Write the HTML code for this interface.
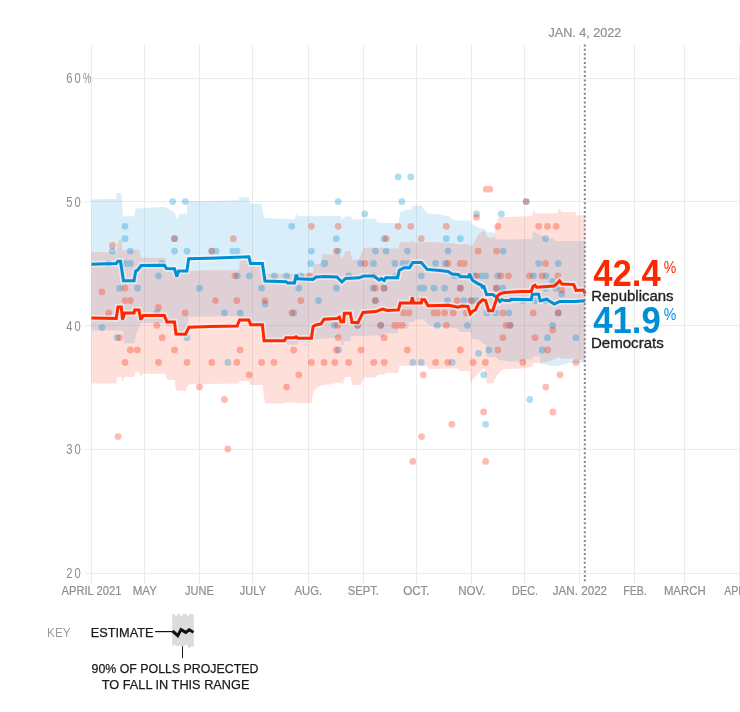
<!DOCTYPE html>
<html><head><meta charset="utf-8"><style>
html,body{margin:0;padding:0;background:#fff;}
body{width:740px;height:712px;overflow:hidden;}
svg{display:block;}
.g line{stroke:#ebebeb;stroke-width:1;shape-rendering:crispEdges;}
text{font-family:"Liberation Sans",Arial,sans-serif;}
.xl text{font-size:12px;fill:#8e8e8e;stroke:#8e8e8e;stroke-width:0.2px;}
.yl text{font-size:14px;fill:#8e8e8e;}
.b{fill:#008fd5;fill-opacity:0.31;}
.r{fill:#ff2700;fill-opacity:0.31;}
</style></head><body>
<svg width="740" height="712" viewBox="0 0 740 712">
<g class="g">
<line x1="91.5" y1="44.8" x2="91.5" y2="583.5"/>
<line x1="144.5" y1="44.8" x2="144.5" y2="583.5"/>
<line x1="199.5" y1="44.8" x2="199.5" y2="583.5"/>
<line x1="252.5" y1="44.8" x2="252.5" y2="583.5"/>
<line x1="308.5" y1="44.8" x2="308.5" y2="583.5"/>
<line x1="363.5" y1="44.8" x2="363.5" y2="583.5"/>
<line x1="416.5" y1="44.8" x2="416.5" y2="583.5"/>
<line x1="471.5" y1="44.8" x2="471.5" y2="583.5"/>
<line x1="524.5" y1="44.8" x2="524.5" y2="583.5"/>
<line x1="579.5" y1="44.8" x2="579.5" y2="583.5"/>
<line x1="634.5" y1="44.8" x2="634.5" y2="583.5"/>
<line x1="684.5" y1="44.8" x2="684.5" y2="583.5"/>
<line x1="739.5" y1="44.8" x2="739.5" y2="583.5"/>
<line x1="91" y1="78.5" x2="740" y2="78.5"/>
<line x1="85" y1="201.5" x2="740" y2="201.5"/>
<line x1="85" y1="325.5" x2="740" y2="325.5"/>
<line x1="85" y1="449" x2="740" y2="449"/>
<line x1="85" y1="573.3" x2="740" y2="573.3"/>
</g>
<polygon points="91.4,199.4 116.2,198.7 117.0,193.0 121.3,193.0 123.0,216.3 134.0,216.3 135.7,208.6 164.4,207.0 174.5,212.0 177.0,219.6 179.6,213.7 187.0,213.5 187.5,201.0 210.0,201.0 238.8,200.2 239.6,197.2 248.9,197.2 250.3,203.6 261.6,203.9 264.0,218.0 284.4,218.8 294.5,219.6 296.5,213.6 297.5,216.2 330.0,216.0 341.0,215.7 341.9,219.9 345.3,216.5 351.2,216.5 352.0,219.4 363.0,219.4 363.9,218.7 375.7,218.7 377.4,222.4 398.5,223.3 400.2,212.3 406.0,209.8 411.0,209.8 412.8,205.5 421.3,205.5 424.3,209.7 428.1,213.5 439.5,214.6 449.2,216.2 451.4,218.9 457.8,220.5 468.6,220.5 470.0,219.5 471.9,223.8 478.4,227.6 482.5,228.6 483.8,228.0 487.0,231.9 493.7,232.6 495.0,238.7 500.8,239.6 532.0,238.9 533.2,231.5 538.6,234.2 546.8,238.2 554.0,238.2 555.0,241.0 585.1,241.0 585.1,362.4 578.0,363.1 569.0,363.1 563.0,364.6 557.0,366.1 551.0,366.1 547.0,364.5 540.0,363.9 539.5,356.4 533.0,356.4 532.0,359.4 526.0,359.4 524.6,361.6 510.0,361.8 499.3,360.0 495.1,356.9 486.7,356.9 486.3,344.2 483.2,344.2 480.0,340.0 472.0,339.0 470.4,332.0 459.0,332.0 458.2,329.0 450.0,327.5 433.0,326.8 428.0,324.3 423.0,319.2 415.0,319.5 414.0,322.0 409.0,322.3 407.8,328.4 398.2,328.4 398.0,333.2 383.8,333.2 383.5,336.9 379.0,336.9 378.6,335.5 351.0,336.3 350.5,341.2 344.0,341.2 343.5,345.0 341.5,345.4 340.5,337.5 325.0,338.5 313.0,339.5 312.2,342.2 298.5,342.2 298.0,344.8 286.5,344.8 285.8,341.3 263.0,341.3 262.1,325.5 251.6,325.5 250.6,319.5 239.0,319.5 238.4,316.2 205.0,316.5 188.5,317.0 187.8,332.8 177.0,332.8 176.4,326.6 166.5,326.6 165.8,323.1 141.2,323.1 136.0,335.0 134.2,343.3 124.0,343.3 123.2,330.5 116.6,330.5 91.4,330.5" fill="#008fd5" fill-opacity="0.15"/>
<polygon points="91.4,252.2 116.6,252.2 117.5,245.0 119.0,238.9 121.9,239.5 122.5,250.8 137.7,249.5 139.0,250.0 141.2,257.8 165.8,257.8 166.5,271.0 188.0,271.0 205.0,270.3 239.2,270.3 239.6,260.2 249.8,260.2 250.6,265.0 262.4,265.0 264.0,273.7 312.8,273.7 313.5,264.0 321.5,264.0 322.5,254.3 340.2,254.5 341.9,259.6 345.3,251.1 350.3,251.1 352.0,259.6 358.8,259.6 363.9,247.8 382.0,247.8 382.4,246.0 383.0,248.6 398.5,248.6 400.2,242.3 411.0,242.3 412.3,238.5 413.0,242.7 426.0,242.0 450.0,243.0 458.0,244.3 469.7,244.3 471.0,246.0 472.5,245.4 478.4,234.6 482.7,231.4 484.9,231.0 487.0,236.8 491.4,237.8 493.2,237.7 498.0,218.0 500.8,217.3 532.0,216.0 533.9,209.2 535.5,213.2 557.0,213.2 559.6,208.5 561.6,211.9 575.0,211.9 576.5,215.3 585.1,215.3 585.1,360.9 575.0,358.6 561.0,358.6 558.8,356.4 556.0,358.5 548.5,361.6 539.5,363.1 533.5,363.1 532.0,366.8 524.6,368.3 510.0,369.1 502.0,369.5 497.0,375.5 493.0,383.2 486.7,383.5 484.5,368.8 483.2,368.8 472.0,380.0 471.5,382.8 470.5,382.8 469.8,370.9 459.3,370.9 458.2,368.5 450.0,368.6 428.6,369.2 426.8,365.7 399.6,365.7 397.9,373.1 385.6,373.1 384.7,374.8 377.6,374.8 375.9,377.5 363.6,377.5 361.0,385.0 352.2,385.0 350.5,377.1 345.2,377.1 342.6,384.6 341.0,383.2 337.0,382.7 330.0,384.5 323.2,384.9 316.0,387.7 313.1,392.0 311.4,403.0 298.5,403.0 297.9,402.4 286.0,402.4 284.4,403.4 265.0,403.4 262.4,384.9 250.6,384.9 248.9,381.0 239.6,381.0 238.8,383.5 210.0,383.9 188.4,384.4 185.5,391.0 176.2,390.6 174.5,380.0 167.8,380.0 164.4,373.7 142.4,373.7 140.7,376.4 139.0,372.0 135.7,372.0 134.0,377.0 124.2,377.0 122.5,382.7 121.3,377.0 117.0,377.0 116.2,383.5 91.4,383.5" fill="#ff2808" fill-opacity="0.15"/>
<g>
<g fill="#008fd5" opacity="0.31">
<circle cx="172.7" cy="201.6" r="3.4"/>
<circle cx="185.2" cy="201.6" r="3.4"/>
<circle cx="125.0" cy="226.3" r="3.4"/>
<circle cx="125.0" cy="238.7" r="3.4"/>
<circle cx="112.4" cy="251.1" r="3.4"/>
<circle cx="130.3" cy="251.1" r="3.4"/>
<circle cx="174.5" cy="238.7" r="3.4"/>
<circle cx="174.5" cy="251.1" r="3.4"/>
<circle cx="187.0" cy="251.1" r="3.4"/>
<circle cx="108.6" cy="263.5" r="3.4"/>
<circle cx="125.5" cy="263.5" r="3.4"/>
<circle cx="130.3" cy="263.5" r="3.4"/>
<circle cx="161.9" cy="263.5" r="3.4"/>
<circle cx="158.5" cy="275.8" r="3.4"/>
<circle cx="119.6" cy="288.2" r="3.4"/>
<circle cx="137.4" cy="288.2" r="3.4"/>
<circle cx="199.5" cy="288.2" r="3.4"/>
<circle cx="156.8" cy="312.9" r="3.4"/>
<circle cx="101.9" cy="327.6" r="3.4"/>
<circle cx="117.1" cy="337.7" r="3.4"/>
<circle cx="187.0" cy="337.7" r="3.4"/>
<circle cx="291.7" cy="226.3" r="3.4"/>
<circle cx="211.8" cy="251.1" r="3.4"/>
<circle cx="216.0" cy="251.1" r="3.4"/>
<circle cx="232.9" cy="251.1" r="3.4"/>
<circle cx="237.1" cy="251.1" r="3.4"/>
<circle cx="311.4" cy="251.1" r="3.4"/>
<circle cx="310.6" cy="263.5" r="3.4"/>
<circle cx="324.0" cy="263.5" r="3.4"/>
<circle cx="237.4" cy="275.8" r="3.4"/>
<circle cx="249.3" cy="275.8" r="3.4"/>
<circle cx="274.3" cy="275.8" r="3.4"/>
<circle cx="286.6" cy="275.8" r="3.4"/>
<circle cx="301.0" cy="275.8" r="3.4"/>
<circle cx="261.6" cy="288.2" r="3.4"/>
<circle cx="298.8" cy="288.2" r="3.4"/>
<circle cx="265.0" cy="304.0" r="3.4"/>
<circle cx="318.5" cy="300.6" r="3.4"/>
<circle cx="224.4" cy="312.9" r="3.4"/>
<circle cx="240.1" cy="312.9" r="3.4"/>
<circle cx="293.7" cy="312.9" r="3.4"/>
<circle cx="227.8" cy="362.4" r="3.4"/>
<circle cx="398.1" cy="176.9" r="3.4"/>
<circle cx="410.8" cy="176.9" r="3.4"/>
<circle cx="338.2" cy="201.6" r="3.4"/>
<circle cx="401.9" cy="201.6" r="3.4"/>
<circle cx="364.7" cy="214.0" r="3.4"/>
<circle cx="336.3" cy="238.7" r="3.4"/>
<circle cx="384.1" cy="238.7" r="3.4"/>
<circle cx="446.3" cy="238.7" r="3.4"/>
<circle cx="338.2" cy="251.1" r="3.4"/>
<circle cx="375.3" cy="251.1" r="3.4"/>
<circle cx="386.1" cy="251.1" r="3.4"/>
<circle cx="407.3" cy="251.1" r="3.4"/>
<circle cx="448.0" cy="251.1" r="3.4"/>
<circle cx="325.0" cy="263.5" r="3.4"/>
<circle cx="360.5" cy="263.5" r="3.4"/>
<circle cx="373.6" cy="263.5" r="3.4"/>
<circle cx="394.8" cy="263.5" r="3.4"/>
<circle cx="403.2" cy="263.5" r="3.4"/>
<circle cx="408.3" cy="263.5" r="3.4"/>
<circle cx="435.6" cy="263.5" r="3.4"/>
<circle cx="445.4" cy="263.5" r="3.4"/>
<circle cx="348.6" cy="275.8" r="3.4"/>
<circle cx="396.0" cy="275.8" r="3.4"/>
<circle cx="421.3" cy="275.8" r="3.4"/>
<circle cx="336.3" cy="288.2" r="3.4"/>
<circle cx="373.1" cy="288.2" r="3.4"/>
<circle cx="384.1" cy="288.2" r="3.4"/>
<circle cx="420.4" cy="288.2" r="3.4"/>
<circle cx="423.8" cy="288.2" r="3.4"/>
<circle cx="434.0" cy="288.2" r="3.4"/>
<circle cx="444.6" cy="288.2" r="3.4"/>
<circle cx="375.3" cy="300.6" r="3.4"/>
<circle cx="447.5" cy="300.6" r="3.4"/>
<circle cx="334.3" cy="325.3" r="3.4"/>
<circle cx="357.6" cy="325.3" r="3.4"/>
<circle cx="380.7" cy="325.3" r="3.4"/>
<circle cx="437.3" cy="325.3" r="3.4"/>
<circle cx="338.5" cy="350.0" r="3.4"/>
<circle cx="412.8" cy="362.4" r="3.4"/>
<circle cx="421.2" cy="362.4" r="3.4"/>
<circle cx="526.2" cy="201.6" r="3.4"/>
<circle cx="476.5" cy="214.0" r="3.4"/>
<circle cx="501.4" cy="214.0" r="3.4"/>
<circle cx="460.3" cy="238.7" r="3.4"/>
<circle cx="545.6" cy="238.7" r="3.4"/>
<circle cx="503.2" cy="251.1" r="3.4"/>
<circle cx="538.7" cy="263.5" r="3.4"/>
<circle cx="558.2" cy="263.5" r="3.4"/>
<circle cx="454.2" cy="275.8" r="3.4"/>
<circle cx="459.3" cy="275.8" r="3.4"/>
<circle cx="474.3" cy="275.8" r="3.4"/>
<circle cx="481.6" cy="275.8" r="3.4"/>
<circle cx="485.6" cy="275.8" r="3.4"/>
<circle cx="497.8" cy="275.8" r="3.4"/>
<circle cx="533.4" cy="275.8" r="3.4"/>
<circle cx="546.0" cy="275.8" r="3.4"/>
<circle cx="552.7" cy="281.4" r="3.4"/>
<circle cx="460.3" cy="288.2" r="3.4"/>
<circle cx="496.4" cy="288.2" r="3.4"/>
<circle cx="502.8" cy="288.2" r="3.4"/>
<circle cx="545.7" cy="288.2" r="3.4"/>
<circle cx="555.8" cy="288.2" r="3.4"/>
<circle cx="561.7" cy="294.0" r="3.4"/>
<circle cx="464.0" cy="300.6" r="3.4"/>
<circle cx="471.4" cy="300.6" r="3.4"/>
<circle cx="476.5" cy="300.6" r="3.4"/>
<circle cx="523.1" cy="300.6" r="3.4"/>
<circle cx="535.3" cy="300.6" r="3.4"/>
<circle cx="545.4" cy="300.6" r="3.4"/>
<circle cx="487.0" cy="312.9" r="3.4"/>
<circle cx="495.7" cy="312.9" r="3.4"/>
<circle cx="508.9" cy="312.9" r="3.4"/>
<circle cx="558.2" cy="312.9" r="3.4"/>
<circle cx="467.4" cy="325.3" r="3.4"/>
<circle cx="510.0" cy="325.3" r="3.4"/>
<circle cx="552.7" cy="325.3" r="3.4"/>
<circle cx="547.5" cy="337.7" r="3.4"/>
<circle cx="575.9" cy="337.7" r="3.4"/>
<circle cx="488.8" cy="350.0" r="3.4"/>
<circle cx="542.2" cy="350.0" r="3.4"/>
<circle cx="478.6" cy="353.3" r="3.4"/>
<circle cx="452.2" cy="362.4" r="3.4"/>
<circle cx="483.7" cy="374.8" r="3.4"/>
<circle cx="529.8" cy="399.5" r="3.4"/>
<circle cx="485.6" cy="424.3" r="3.4"/>
</g>
<g fill="#ff2700" opacity="0.31">
<circle cx="112.4" cy="245.5" r="3.4"/>
<circle cx="174.5" cy="238.7" r="3.4"/>
<circle cx="101.9" cy="291.8" r="3.4"/>
<circle cx="125.0" cy="288.2" r="3.4"/>
<circle cx="125.0" cy="300.6" r="3.4"/>
<circle cx="130.3" cy="300.6" r="3.4"/>
<circle cx="108.6" cy="312.9" r="3.4"/>
<circle cx="158.5" cy="307.5" r="3.4"/>
<circle cx="185.2" cy="312.9" r="3.4"/>
<circle cx="156.8" cy="325.3" r="3.4"/>
<circle cx="119.6" cy="337.7" r="3.4"/>
<circle cx="162.2" cy="337.7" r="3.4"/>
<circle cx="130.3" cy="350.0" r="3.4"/>
<circle cx="137.4" cy="350.0" r="3.4"/>
<circle cx="174.5" cy="350.0" r="3.4"/>
<circle cx="125.0" cy="362.4" r="3.4"/>
<circle cx="158.5" cy="362.4" r="3.4"/>
<circle cx="187.0" cy="362.4" r="3.4"/>
<circle cx="199.5" cy="387.1" r="3.4"/>
<circle cx="118.0" cy="436.6" r="3.4"/>
<circle cx="311.4" cy="226.3" r="3.4"/>
<circle cx="233.4" cy="238.7" r="3.4"/>
<circle cx="211.8" cy="251.1" r="3.4"/>
<circle cx="235.0" cy="275.8" r="3.4"/>
<circle cx="309.7" cy="275.8" r="3.4"/>
<circle cx="215.5" cy="300.6" r="3.4"/>
<circle cx="236.8" cy="300.6" r="3.4"/>
<circle cx="265.0" cy="300.6" r="3.4"/>
<circle cx="300.8" cy="300.6" r="3.4"/>
<circle cx="292.0" cy="312.9" r="3.4"/>
<circle cx="240.1" cy="350.0" r="3.4"/>
<circle cx="293.7" cy="350.0" r="3.4"/>
<circle cx="211.8" cy="362.4" r="3.4"/>
<circle cx="236.8" cy="362.4" r="3.4"/>
<circle cx="261.6" cy="362.4" r="3.4"/>
<circle cx="273.9" cy="362.4" r="3.4"/>
<circle cx="311.4" cy="362.4" r="3.4"/>
<circle cx="324.1" cy="362.4" r="3.4"/>
<circle cx="249.3" cy="374.8" r="3.4"/>
<circle cx="298.8" cy="374.8" r="3.4"/>
<circle cx="286.6" cy="387.1" r="3.4"/>
<circle cx="224.4" cy="399.5" r="3.4"/>
<circle cx="227.8" cy="449.0" r="3.4"/>
<circle cx="338.2" cy="226.3" r="3.4"/>
<circle cx="398.1" cy="226.3" r="3.4"/>
<circle cx="410.8" cy="226.3" r="3.4"/>
<circle cx="446.3" cy="226.3" r="3.4"/>
<circle cx="386.1" cy="238.7" r="3.4"/>
<circle cx="421.3" cy="238.7" r="3.4"/>
<circle cx="336.3" cy="251.1" r="3.4"/>
<circle cx="365.0" cy="263.5" r="3.4"/>
<circle cx="448.0" cy="263.5" r="3.4"/>
<circle cx="373.6" cy="275.8" r="3.4"/>
<circle cx="375.3" cy="288.2" r="3.4"/>
<circle cx="384.1" cy="288.2" r="3.4"/>
<circle cx="375.3" cy="300.6" r="3.4"/>
<circle cx="420.4" cy="300.6" r="3.4"/>
<circle cx="403.5" cy="312.9" r="3.4"/>
<circle cx="409.0" cy="312.9" r="3.4"/>
<circle cx="434.0" cy="312.9" r="3.4"/>
<circle cx="437.3" cy="312.9" r="3.4"/>
<circle cx="444.6" cy="312.9" r="3.4"/>
<circle cx="337.7" cy="325.3" r="3.4"/>
<circle cx="357.6" cy="325.3" r="3.4"/>
<circle cx="380.7" cy="325.3" r="3.4"/>
<circle cx="394.8" cy="325.3" r="3.4"/>
<circle cx="397.6" cy="325.3" r="3.4"/>
<circle cx="402.2" cy="325.3" r="3.4"/>
<circle cx="446.3" cy="325.3" r="3.4"/>
<circle cx="338.2" cy="337.7" r="3.4"/>
<circle cx="384.1" cy="337.7" r="3.4"/>
<circle cx="336.3" cy="350.0" r="3.4"/>
<circle cx="361.0" cy="350.0" r="3.4"/>
<circle cx="407.3" cy="350.0" r="3.4"/>
<circle cx="334.7" cy="362.4" r="3.4"/>
<circle cx="348.7" cy="362.4" r="3.4"/>
<circle cx="373.8" cy="362.4" r="3.4"/>
<circle cx="384.3" cy="362.4" r="3.4"/>
<circle cx="435.6" cy="362.4" r="3.4"/>
<circle cx="423.3" cy="374.8" r="3.4"/>
<circle cx="421.6" cy="436.6" r="3.4"/>
<circle cx="412.8" cy="461.4" r="3.4"/>
<circle cx="486.3" cy="189.2" r="3.4"/>
<circle cx="489.7" cy="189.2" r="3.4"/>
<circle cx="526.2" cy="201.6" r="3.4"/>
<circle cx="476.5" cy="217.3" r="3.4"/>
<circle cx="497.8" cy="226.3" r="3.4"/>
<circle cx="538.7" cy="226.3" r="3.4"/>
<circle cx="547.4" cy="226.3" r="3.4"/>
<circle cx="556.2" cy="226.3" r="3.4"/>
<circle cx="478.1" cy="251.1" r="3.4"/>
<circle cx="496.4" cy="251.1" r="3.4"/>
<circle cx="460.3" cy="263.5" r="3.4"/>
<circle cx="464.3" cy="263.5" r="3.4"/>
<circle cx="545.6" cy="263.5" r="3.4"/>
<circle cx="476.4" cy="275.8" r="3.4"/>
<circle cx="500.8" cy="275.8" r="3.4"/>
<circle cx="508.5" cy="275.8" r="3.4"/>
<circle cx="529.4" cy="275.8" r="3.4"/>
<circle cx="542.0" cy="275.8" r="3.4"/>
<circle cx="558.0" cy="275.8" r="3.4"/>
<circle cx="460.3" cy="288.2" r="3.4"/>
<circle cx="496.4" cy="288.2" r="3.4"/>
<circle cx="561.7" cy="290.0" r="3.4"/>
<circle cx="457.2" cy="300.6" r="3.4"/>
<circle cx="471.4" cy="300.6" r="3.4"/>
<circle cx="453.2" cy="312.9" r="3.4"/>
<circle cx="466.4" cy="312.9" r="3.4"/>
<circle cx="502.8" cy="312.9" r="3.4"/>
<circle cx="533.2" cy="312.9" r="3.4"/>
<circle cx="558.2" cy="312.9" r="3.4"/>
<circle cx="506.0" cy="325.3" r="3.4"/>
<circle cx="510.0" cy="325.3" r="3.4"/>
<circle cx="552.7" cy="330.0" r="3.4"/>
<circle cx="502.9" cy="337.7" r="3.4"/>
<circle cx="535.0" cy="337.7" r="3.4"/>
<circle cx="460.3" cy="350.0" r="3.4"/>
<circle cx="497.8" cy="350.0" r="3.4"/>
<circle cx="547.6" cy="350.0" r="3.4"/>
<circle cx="447.7" cy="362.4" r="3.4"/>
<circle cx="473.0" cy="362.4" r="3.4"/>
<circle cx="485.4" cy="362.4" r="3.4"/>
<circle cx="522.8" cy="362.4" r="3.4"/>
<circle cx="575.9" cy="362.4" r="3.4"/>
<circle cx="560.0" cy="374.8" r="3.4"/>
<circle cx="545.8" cy="387.1" r="3.4"/>
<circle cx="483.6" cy="411.9" r="3.4"/>
<circle cx="552.9" cy="411.9" r="3.4"/>
<circle cx="451.8" cy="424.3" r="3.4"/>
<circle cx="485.6" cy="461.4" r="3.4"/>
</g>
</g>
<polyline points="91.4,264.3 116.2,263.5 118.0,261.2 120.5,261.2 123.5,280.7 134.0,280.7 135.7,271.0 137.7,270.0 141.2,265.5 164.4,265.2 166.5,268.5 174.5,268.8 176.8,276.5 178.6,271.0 186.9,271.0 188.7,258.8 210.0,258.2 248.9,256.8 250.6,263.5 262.4,263.5 265.0,281.0 286.0,281.7 287.8,283.0 294.5,283.0 296.2,274.5 297.9,278.7 313.0,279.5 316.0,277.0 325.0,276.5 336.8,277.0 341.9,282.0 345.3,278.6 358.8,277.8 363.9,276.1 374.0,276.1 379.0,280.0 381.5,278.6 384.1,280.5 385.8,277.8 397.6,277.8 399.3,270.2 404.4,267.7 409.5,267.7 412.8,262.6 421.3,262.6 427.2,269.4 440.0,270.5 448.1,271.5 452.0,274.0 458.2,274.5 460.3,276.5 468.4,277.0 469.6,273.8 472.4,280.3 477.5,283.4 481.6,285.4 482.6,288.4 483.6,285.4 486.6,294.5 492.7,294.5 495.7,296.6 499.8,301.6 501.8,299.6 504.9,300.6 510.0,300.6 511.0,299.2 531.2,299.7 532.4,294.3 538.6,294.3 540.3,300.8 546.8,299.2 548.9,300.8 554.3,304.0 559.7,301.4 575.0,301.4 585.1,300.8" fill="none" stroke="#fff" stroke-opacity="0.45" stroke-width="6.5" stroke-linejoin="miter" stroke-miterlimit="2.5"/>
<polyline points="91.4,318.0 116.2,318.5 118.0,307.0 121.3,307.0 122.5,319.6 124.7,312.9 134.0,312.9 134.8,310.0 139.0,310.0 140.7,319.6 143.3,315.4 164.4,315.4 167.0,322.0 174.5,322.0 176.0,334.0 185.5,334.2 189.0,327.2 210.0,326.4 237.1,326.0 239.6,320.0 248.9,320.0 250.6,324.8 262.4,324.8 264.1,340.8 284.4,340.8 286.0,337.8 294.0,337.8 296.0,336.8 297.9,338.3 311.4,338.3 313.1,326.5 316.0,325.0 321.0,324.0 324.0,319.2 336.8,318.5 339.4,317.2 341.0,321.7 343.6,321.7 344.4,313.3 350.3,313.3 352.0,322.6 358.0,322.6 363.0,312.4 375.7,311.6 382.4,309.0 387.5,310.4 398.5,309.9 400.2,303.1 411.1,303.1 412.3,297.2 413.5,303.1 421.3,303.1 422.0,299.8 424.7,299.8 428.0,305.7 448.0,305.2 450.0,305.5 458.0,307.3 462.0,306.0 468.0,306.5 470.4,313.8 472.4,311.5 475.5,309.7 478.5,303.7 482.6,299.6 485.6,300.6 488.7,310.7 492.7,310.7 495.7,301.6 497.8,295.5 500.8,293.5 504.9,292.5 521.0,291.6 531.2,291.5 533.0,286.2 535.0,285.2 536.5,287.3 554.0,286.0 556.0,284.5 559.6,280.8 562.0,284.1 573.8,284.6 576.0,290.5 583.5,290.0 585.1,293.5" fill="none" stroke="#fff" stroke-opacity="0.45" stroke-width="6.5" stroke-linejoin="miter" stroke-miterlimit="2.5"/>
<polyline points="91.4,264.3 116.2,263.5 118.0,261.2 120.5,261.2 123.5,280.7 134.0,280.7 135.7,271.0 137.7,270.0 141.2,265.5 164.4,265.2 166.5,268.5 174.5,268.8 176.8,276.5 178.6,271.0 186.9,271.0 188.7,258.8 210.0,258.2 248.9,256.8 250.6,263.5 262.4,263.5 265.0,281.0 286.0,281.7 287.8,283.0 294.5,283.0 296.2,274.5 297.9,278.7 313.0,279.5 316.0,277.0 325.0,276.5 336.8,277.0 341.9,282.0 345.3,278.6 358.8,277.8 363.9,276.1 374.0,276.1 379.0,280.0 381.5,278.6 384.1,280.5 385.8,277.8 397.6,277.8 399.3,270.2 404.4,267.7 409.5,267.7 412.8,262.6 421.3,262.6 427.2,269.4 440.0,270.5 448.1,271.5 452.0,274.0 458.2,274.5 460.3,276.5 468.4,277.0 469.6,273.8 472.4,280.3 477.5,283.4 481.6,285.4 482.6,288.4 483.6,285.4 486.6,294.5 492.7,294.5 495.7,296.6 499.8,301.6 501.8,299.6 504.9,300.6 510.0,300.6 511.0,299.2 531.2,299.7 532.4,294.3 538.6,294.3 540.3,300.8 546.8,299.2 548.9,300.8 554.3,304.0 559.7,301.4 575.0,301.4 585.1,300.8" fill="none" stroke="#008fd5" stroke-width="3" stroke-linejoin="miter" stroke-miterlimit="2.5"/>
<polyline points="91.4,318.0 116.2,318.5 118.0,307.0 121.3,307.0 122.5,319.6 124.7,312.9 134.0,312.9 134.8,310.0 139.0,310.0 140.7,319.6 143.3,315.4 164.4,315.4 167.0,322.0 174.5,322.0 176.0,334.0 185.5,334.2 189.0,327.2 210.0,326.4 237.1,326.0 239.6,320.0 248.9,320.0 250.6,324.8 262.4,324.8 264.1,340.8 284.4,340.8 286.0,337.8 294.0,337.8 296.0,336.8 297.9,338.3 311.4,338.3 313.1,326.5 316.0,325.0 321.0,324.0 324.0,319.2 336.8,318.5 339.4,317.2 341.0,321.7 343.6,321.7 344.4,313.3 350.3,313.3 352.0,322.6 358.0,322.6 363.0,312.4 375.7,311.6 382.4,309.0 387.5,310.4 398.5,309.9 400.2,303.1 411.1,303.1 412.3,297.2 413.5,303.1 421.3,303.1 422.0,299.8 424.7,299.8 428.0,305.7 448.0,305.2 450.0,305.5 458.0,307.3 462.0,306.0 468.0,306.5 470.4,313.8 472.4,311.5 475.5,309.7 478.5,303.7 482.6,299.6 485.6,300.6 488.7,310.7 492.7,310.7 495.7,301.6 497.8,295.5 500.8,293.5 504.9,292.5 521.0,291.6 531.2,291.5 533.0,286.2 535.0,285.2 536.5,287.3 554.0,286.0 556.0,284.5 559.6,280.8 562.0,284.1 573.8,284.6 576.0,290.5 583.5,290.0 585.1,293.5" fill="none" stroke="#ff2700" stroke-width="3" stroke-linejoin="miter" stroke-miterlimit="2.5"/>
<line x1="584.8" y1="44.4" x2="584.8" y2="581.4" stroke="#858585" stroke-width="2" stroke-dasharray="2,2.385"/>
<text x="548.4" y="36.6" font-size="13.6" fill="#8e8e8e" stroke="#8e8e8e" stroke-width="0.2" textLength="73" lengthAdjust="spacingAndGlyphs">JAN. 4, 2022</text>
<g class="xl">
<text x="61.5" y="594.7" textLength="59.9" lengthAdjust="spacingAndGlyphs">APRIL 2021</text>
<text x="132.7" y="594.7" textLength="24.3" lengthAdjust="spacingAndGlyphs">MAY</text>
<text x="185.1" y="594.7" textLength="28.8" lengthAdjust="spacingAndGlyphs">JUNE</text>
<text x="239.8" y="594.7" textLength="26.3" lengthAdjust="spacingAndGlyphs">JULY</text>
<text x="294.6" y="594.7" textLength="27.5" lengthAdjust="spacingAndGlyphs">AUG.</text>
<text x="347.7" y="594.7" textLength="31.2" lengthAdjust="spacingAndGlyphs">SEPT.</text>
<text x="403.2" y="594.7" textLength="26.4" lengthAdjust="spacingAndGlyphs">OCT.</text>
<text x="458.2" y="594.7" textLength="27.2" lengthAdjust="spacingAndGlyphs">NOV.</text>
<text x="512.1" y="594.7" textLength="25.9" lengthAdjust="spacingAndGlyphs">DEC.</text>
<text x="552.8" y="594.7" textLength="54.3" lengthAdjust="spacingAndGlyphs">JAN. 2022</text>
<text x="623.2" y="594.7" textLength="23.5" lengthAdjust="spacingAndGlyphs">FEB.</text>
<text x="663.9" y="594.7" textLength="41.7" lengthAdjust="spacingAndGlyphs">MARCH</text>
<text x="724.2" y="594.7" textLength="30.5" lengthAdjust="spacingAndGlyphs">APRIL</text>
</g>
<g class="yl">
<text transform="translate(66.3,83.1) scale(0.8,1)" letter-spacing="2.46">60</text>
<text transform="translate(66.3,206.9) scale(0.8,1)" letter-spacing="2.46">50</text>
<text transform="translate(66.3,330.5) scale(0.8,1)" letter-spacing="2.46">40</text>
<text transform="translate(66.3,454.2) scale(0.8,1)" letter-spacing="2.46">30</text>
<text transform="translate(66.3,578) scale(0.8,1)" letter-spacing="2.46">20</text>
<text transform="translate(83,83.1) scale(0.66,1)" font-size="13.5">%</text>
</g>
<text x="593.2" y="286.1" font-size="36.5" font-weight="bold" fill="#ff2700" textLength="67.5" lengthAdjust="spacingAndGlyphs">42.4</text>
<text x="663.8" y="273.2" font-size="16.5" fill="#ff2700" textLength="12.5" lengthAdjust="spacingAndGlyphs">%</text>
<text x="591.2" y="301.3" font-size="15.5" fill="#222" stroke="#222" stroke-width="0.35" textLength="82.4" lengthAdjust="spacingAndGlyphs">Republicans</text>
<text x="593.2" y="332.5" font-size="36.5" font-weight="bold" fill="#008fd5" textLength="67.5" lengthAdjust="spacingAndGlyphs">41.9</text>
<text x="663.8" y="319.6" font-size="16.5" fill="#008fd5" textLength="12.5" lengthAdjust="spacingAndGlyphs">%</text>
<text x="590.9" y="347.8" font-size="15.5" fill="#222" stroke="#222" stroke-width="0.35" textLength="72.9" lengthAdjust="spacingAndGlyphs">Democrats</text>
<!-- key -->
<text x="47.1" y="636.9" font-size="12.3" fill="#9a9a9a" textLength="23.4" lengthAdjust="spacingAndGlyphs">KEY</text>
<text x="90.7" y="637.3" font-size="13" fill="#1a1a1a" stroke="#1a1a1a" stroke-width="0.25" textLength="62.8" lengthAdjust="spacingAndGlyphs">ESTIMATE</text>
<path d="M172.2,614.5 L174,613.5 L176,617 L178,613.6 L180,614 L181.5,617 L183.5,613.5 L186.5,614 L188,616.5 L190,613.8 L193.8,614.5 L193.8,647 L191.5,646 L189,649 L187,644.5 L184.5,645.5 L182.5,648 L180,645 L177.5,646.5 L175,644.5 L172.2,646.5 Z" fill="#dcdcdc"/>
<line x1="155.2" y1="631.6" x2="172.5" y2="631.6" stroke="#111" stroke-width="1.2"/>
<polyline points="172.5,631 177.8,635.6 181,629.6 185.8,632.4 189.2,629.8 193.5,632.2" fill="none" stroke="#111" stroke-width="3" stroke-linejoin="miter" stroke-miterlimit="2.5"/>
<line x1="182.5" y1="646.5" x2="182.5" y2="658" stroke="#111" stroke-width="1"/>
<text x="91.6" y="672.6" font-size="13.3" fill="#1a1a1a" stroke="#1a1a1a" stroke-width="0.25" textLength="166.8" lengthAdjust="spacingAndGlyphs">90% OF POLLS PROJECTED</text>
<text x="101.8" y="689.3" font-size="13.3" fill="#1a1a1a" stroke="#1a1a1a" stroke-width="0.25" textLength="147.6" lengthAdjust="spacingAndGlyphs">TO FALL IN THIS RANGE</text>
</svg>
</body></html>
